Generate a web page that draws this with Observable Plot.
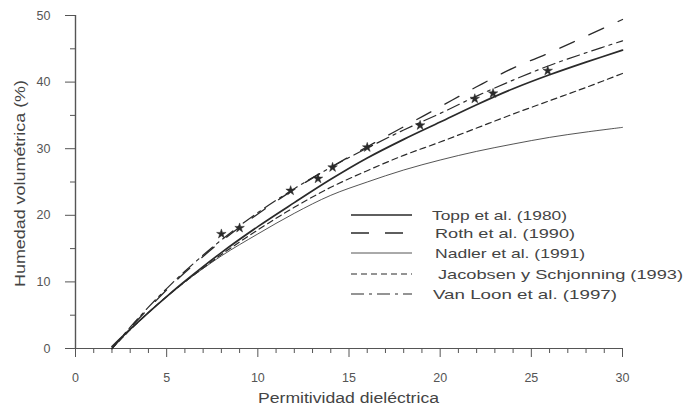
<!DOCTYPE html>
<html><head><meta charset="utf-8">
<script src="https://cdn.jsdelivr.net/npm/d3@7"></script>
<script src="https://cdn.jsdelivr.net/npm/@observablehq/plot@0.6"></script>
<style>body{margin:0;background:#fff} svg{display:block}</style>
</head><body><div id="chart"></div>
<script>
// Permitividad dieléctrica (eje x)
const permitividad = [2, 3, 4, 5, 6, 8, 10, 12, 14, 16, 18, 20, 22, 24, 26, 28, 30];
// Humedad volumétrica (%)
const topp     = [0.3, 2.9, 5.4, 7.8, 10.1, 14.4, 18.3, 21.9, 25.4, 28.6, 31.4, 34.0, 36.6, 39.0, 41.1, 43.0, 44.8];
const roth     = [0.0, 3.1, 6.0, 8.8, 11.4, 16.1, 20.2, 23.9, 27.2, 30.3, 33.3, 36.3, 39.3, 42.1, 44.4, 46.9, 49.4];
const nadler   = [0.0, 2.8, 5.4, 7.8, 10.0, 13.9, 17.2, 20.3, 23.0, 25.0, 26.8, 28.3, 29.6, 30.7, 31.7, 32.5, 33.2];
const jacobsen = [0.0, 2.8, 5.4, 7.8, 10.0, 14.1, 17.8, 21.2, 24.2, 26.7, 29.0, 31.0, 33.1, 35.2, 37.2, 39.2, 41.3];
const vanLoon  = [0.0, 3.2, 6.2, 9.0, 11.6, 16.3, 20.4, 24.0, 27.2, 30.1, 32.8, 35.3, 37.9, 40.3, 42.5, 44.4, 46.2];
// Puntos marcados (estrellas)
const puntosE = [8, 9, 11.8, 13.3, 14.1, 16.0, 18.9, 21.9, 22.9, 25.9];
const puntosH = [17.2, 18.1, 23.7, 25.5, 27.2, 30.2, 33.5, 37.5, 38.3, 41.7];
// Etiquetas
const nombres = ["Topp et al. (1980)", "Roth et al. (1990)", "Nadler et al. (1991)", "Jacobsen y Schjonning (1993)", "Van Loon et al. (1997)"];
const xMajor = [0, 5, 10, 15, 20, 25, 30];
const xMinor = d3.range(0, 31).filter(v => v % 5 !== 0);
const yMajor = [0, 10, 20, 30, 40, 50];
const yMinor = [5, 15, 25, 35, 45];
const xTitle = "Permitividad dieléctrica";
const yTitle = "Humedad volumétrica (%)";

const valores = [topp, roth, nadler, jacobsen, vanLoon];
const estilos = [
  {strokeWidth: 1.7, dash: null},
  {strokeWidth: 1.3, dash: "16,16"},
  {strokeWidth: 0.8, dash: null},
  {strokeWidth: 1.2, dash: "6,4"},
  {strokeWidth: 1.2, dash: "13,5,3,5"}
];
const filas = nombres.map((n, k) => permitividad.map((e, i) => ({serie: n, e, h: valores[k][i]})));
const puntos = puntosE.map((e, i) => ({e, h: puntosH[i]}));

const ink = "#2a2a2a";
const chart = Plot.plot({
  width: 685, height: 409,
  marginLeft: 75, marginRight: 63, marginTop: 15, marginBottom: 61,
  style: {fontFamily: "'Liberation Sans', Arial, sans-serif", fontSize: "12.5px", color: "#555", background: "#fff"},
  x: {domain: [0, 30], label: null},
  y: {domain: [0, 50], label: null},
  marks: [
    Plot.axisX({ticks: xMinor, tickSize: 5, text: null, stroke: "#555", label: null}),
    Plot.axisX({ticks: xMajor, tickSize: 9, tickPadding: 16, stroke: "#555", fill: "#555", label: null}),
    Plot.axisY({ticks: yMinor, tickSize: 5, text: null, stroke: "#555", label: null}),
    Plot.axisY({ticks: yMajor, tickSize: 10, tickPadding: 15, stroke: "#555", fill: "#555", label: null}),
    Plot.ruleY([0], {stroke: "#555", strokeWidth: 1.2}),
    Plot.ruleX([0], {stroke: "#555", strokeWidth: 1.4}),
    ...filas.map((f, k) => Plot.line(f, {x: "e", y: "h", curve: "catmull-rom", stroke: ink,
      strokeWidth: estilos[k].strokeWidth, strokeDasharray: estilos[k].dash})),
    Plot.dot(puntos, {x: "e", y: "h", symbol: "star", r: 3, fill: ink, stroke: ink, strokeWidth: 0.5})
  ]
});
document.getElementById("chart").append(chart);

const svg = d3.select(chart);
const font = "'Liberation Sans', Arial, sans-serif";
svg.append("text").text(xTitle)
  .attr("x", 258).attr("y", 403).attr("text-anchor", "start")
  .attr("textLength", 181).attr("lengthAdjust", "spacingAndGlyphs")
  .attr("font-family", font).attr("font-size", 14).attr("fill", "#444");
svg.append("text").text(yTitle)
  .attr("transform", "translate(25,287) rotate(-90)").attr("text-anchor", "start")
  .attr("textLength", 207).attr("lengthAdjust", "spacingAndGlyphs")
  .attr("font-family", font).attr("font-size", 14).attr("fill", "#444");

// Leyenda
const leyX = [432, 435, 435, 438, 433];
const leyW = [135, 140, 150, 245, 184];
const leyY = [215, 233, 253, 274, 294];
const g = svg.append("g").attr("text-anchor", "start");
nombres.forEach((n, k) => {
  g.append("line").attr("x1", 351).attr("x2", 412).attr("y1", leyY[k]).attr("y2", leyY[k])
    .attr("stroke", ink).attr("stroke-width", estilos[k].strokeWidth)
    .attr("stroke-dasharray", k === 1 ? "18,16" : estilos[k].dash);
  g.append("text").text(n).attr("x", leyX[k]).attr("y", leyY[k] + 4.5).attr("text-anchor", "start")
    .attr("textLength", leyW[k]).attr("lengthAdjust", "spacingAndGlyphs")
    .attr("font-family", font).attr("font-size", 13).attr("fill", "#444");
});
</script></body></html>
